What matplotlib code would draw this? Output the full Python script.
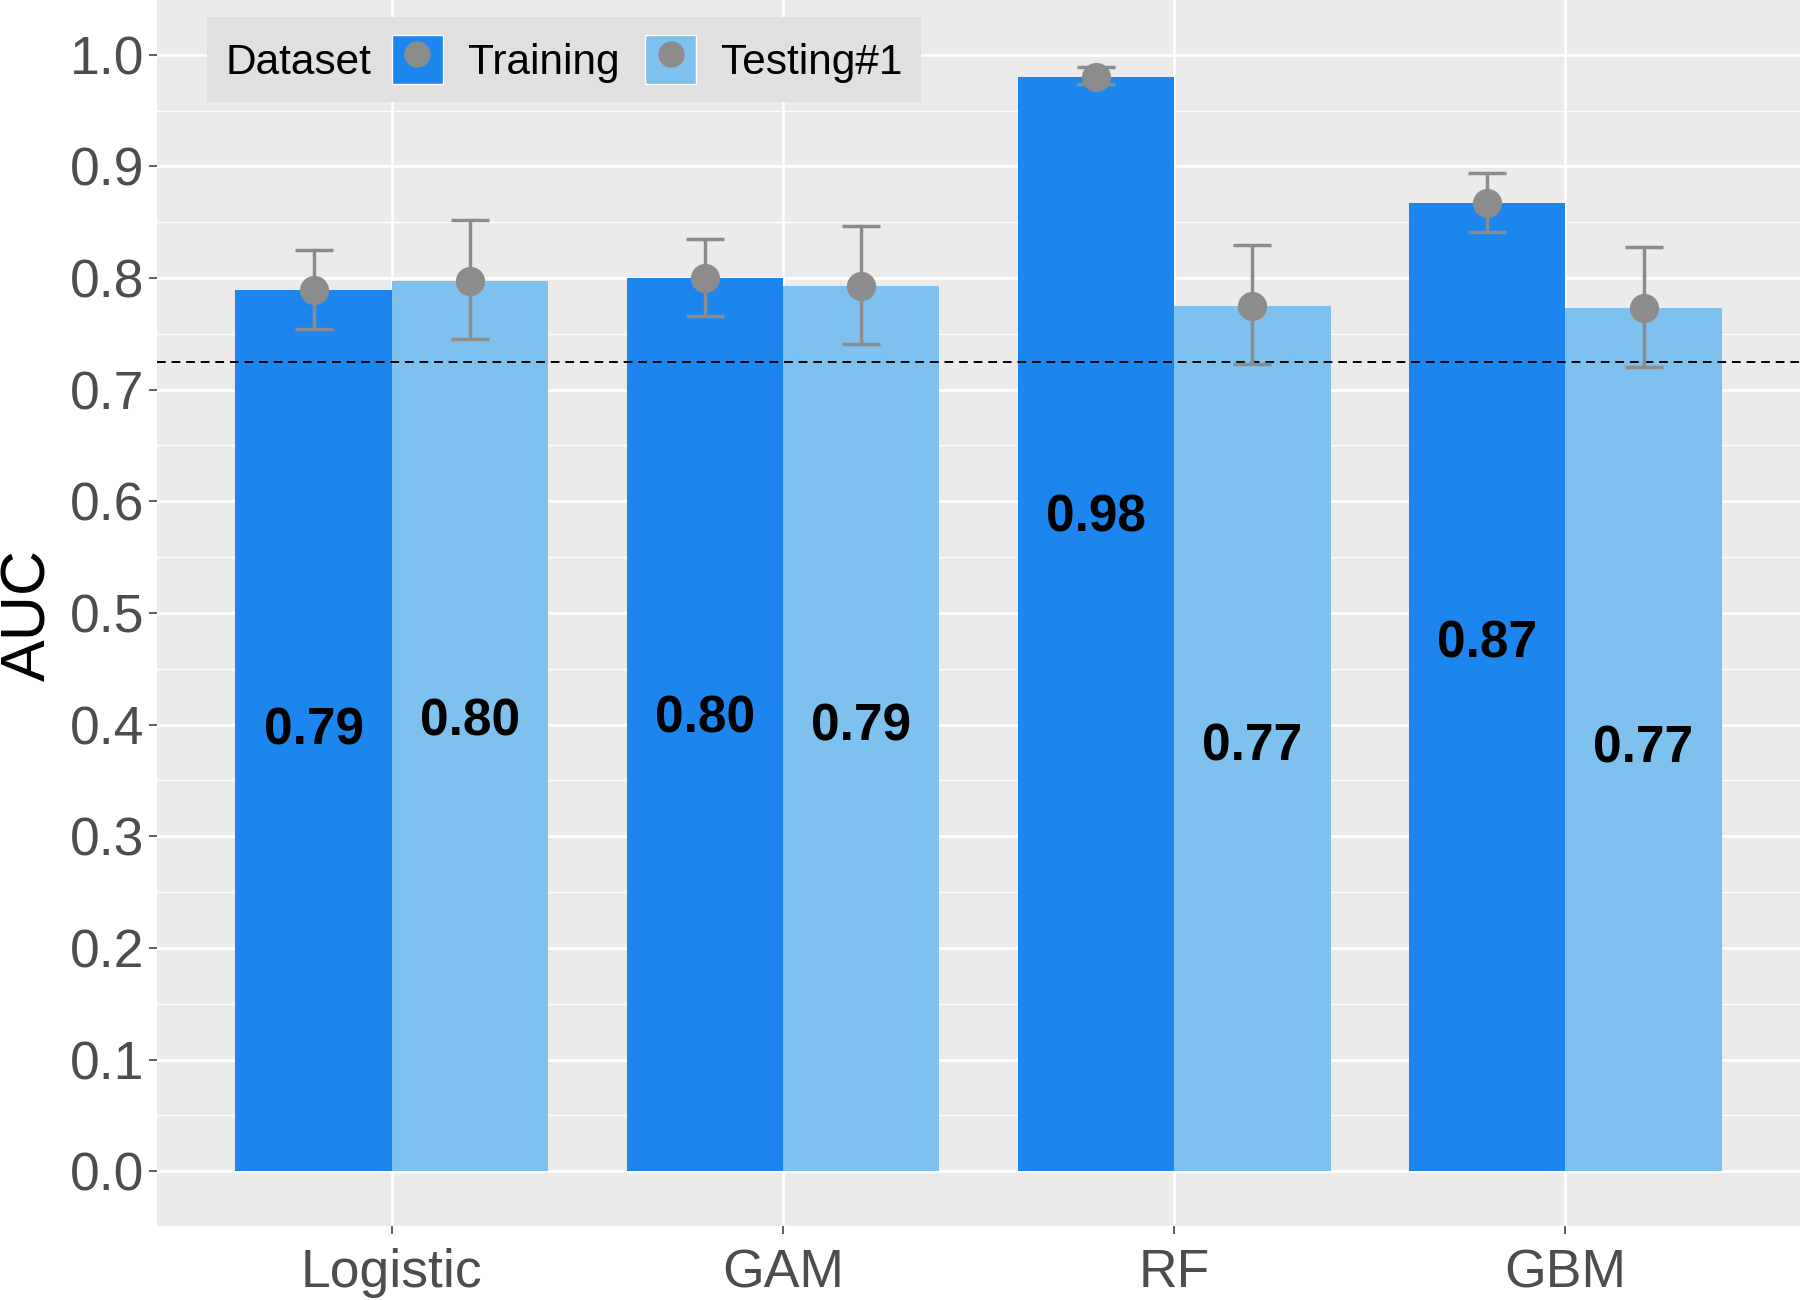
import matplotlib.pyplot as plt
import numpy as np
from matplotlib.patches import Patch
from matplotlib.lines import Line2D
from matplotlib.offsetbox import HPacker

plt.rcParams['font.family'] = ['Liberation Sans', 'DejaVu Sans']

models = ['Logistic', 'GAM', 'RF', 'GBM']
datasets = ['Training', 'Testing#1']
auc_train = [0.789, 0.800, 0.980, 0.867]
auc_test = [0.797, 0.793, 0.775, 0.773]
lo_train = [0.754, 0.766, 0.974, 0.841]
hi_train = [0.825, 0.835, 0.989, 0.894]
lo_test = [0.745, 0.741, 0.723, 0.720]
hi_test = [0.852, 0.847, 0.830, 0.828]
labels_train = ['0.79', '0.80', '0.98', '0.87']
labels_test = ['0.80', '0.79', '0.77', '0.77']
cutoff = 0.725

colors = ['#1C86EE', '#7EC0EE']
err_col = '#8C8C8C'

fig = plt.figure(figsize=(18, 13), dpi=100)
ax = fig.add_axes([0.0873, 0.057, 0.9127, 0.943])
ax.set_facecolor('#EBEBEB')
for s in ax.spines.values():
    s.set_visible(False)

x = np.arange(1, len(models) + 1)
w = 0.4

series = [
    (x - w / 2, auc_train, lo_train, hi_train, labels_train, colors[0]),
    (x + w / 2, auc_test, lo_test, hi_test, labels_test, colors[1]),
]
for xs, vals, lo, hi, labs, c in series:
    vals = np.array(vals)
    ax.bar(xs, vals, w, color=c, zorder=2)
    yerr = [vals - np.array(lo), np.array(hi) - vals]
    ax.errorbar(xs, vals, yerr=yerr, fmt='o', color=err_col, ms=20, mec=err_col,
                elinewidth=2.5, capsize=14, capthick=2.5, zorder=4)
    for xi, v, lab in zip(xs, vals, labs):
        ax.text(xi, v - 0.395, lab, ha='center', va='center', fontsize=37,
                fontweight='bold', color='black', zorder=5)

ax.axhline(cutoff, color='black', ls=(0, (4.5, 3)), lw=1.4, zorder=3)

ax.set_xlim(0.4, 4.6)
ax.set_ylim(-0.049, 1.049)
ax.set_xticks(x)
ax.set_xticklabels(models)
ax.set_yticks(np.arange(0, 1.01, 0.1))
ax.set_yticklabels(['%.1f' % v for v in np.arange(0, 1.01, 0.1)])
ax.set_yticks(np.arange(0.05, 1.0, 0.1), minor=True)
ax.tick_params(axis='y', which='minor', length=0)
ax.tick_params(axis='both', which='major', length=6, width=1.1, color='#333333',
               labelcolor='#4D4D4D', labelsize=38.5)
ax.tick_params(axis='y', pad=3)
ax.tick_params(axis='x', pad=10)
ax.grid(which='major', color='white', lw=1.9, zorder=0)
ax.grid(which='minor', axis='y', color='white', lw=0.9, zorder=0)
ax.set_axisbelow(True)

ax.set_ylabel('AUC', fontsize=45, color='black')
ax.yaxis.set_label_coords(-0.078, 0.498)
ax.yaxis.label.set_va('center')

handles = [(Patch(facecolor=c, edgecolor='white', lw=1),
            Line2D([], [], ls='none', marker='o', ms=19, mew=0, color=err_col))
           for c in colors]
leg = ax.legend(handles, datasets, title='Dataset', ncol=2, loc='upper left',
                bbox_to_anchor=(0.0304, 0.986), fontsize=30.5, title_fontsize=30.5,
                frameon=True, facecolor='#E0E0E0', edgecolor='none', framealpha=1,
                fancybox=False, handlelength=1.2, handleheight=1.4,
                handletextpad=0.6, columnspacing=0.6, borderpad=0.4,
                borderaxespad=0)
# put the title to the left of the keys, like ggplot's horizontal legend
leg._legend_box = HPacker(pad=13, sep=15, align='baseline',
                          children=[leg._legend_title_box, leg._legend_handle_box])
leg._legend_box.set_figure(fig)
leg._legend_box.set_offset(leg._findoffset)

fig.savefig('out.png', dpi=100)
